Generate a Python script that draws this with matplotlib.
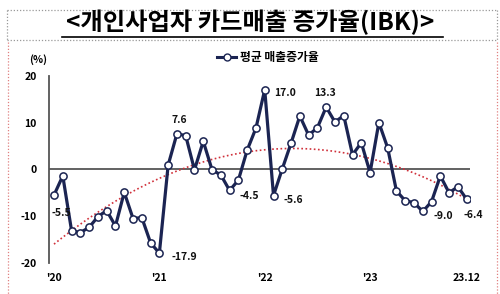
import matplotlib
matplotlib.use("Agg")
import matplotlib.pyplot as plt
from matplotlib.lines import Line2D
import numpy as np

plt.rcParams['font.family'] = ['Noto Sans CJK KR', 'DejaVu Sans']

title = "<개인사업자 카드매출 증가율(IBK)>"
series_name = "평균 매출증가율"
values = [-5.5, -1.4, -13.1, -13.5, -12.4, -10.1, -8.8, -12.1, -4.9, -10.5, -10.3, -15.7,
          -17.9, 0.9, 7.6, 7.2, -0.1, 6.0, -0.1, -1.2, -4.5, -2.3, 4.1, 8.8,
          17.0, -5.6, 0.1, 5.6, 11.4, 7.3, 8.9, 13.3, 10.1, 11.5, 3.1, 5.7,
          -0.7, 10.0, 4.6, -4.6, -6.7, -7.1, -9.0, -6.9, -1.4, -5.0, -3.7, -6.4]
tick_pos = [0, 12, 24, 36, 47]
tick_labels = ["'20", "'21", "'22", "'23", "23.12"]
yticks = [-20, -10, 0, 10, 20]
annot_idx = [0, 12, 14, 20, 24, 25, 31, 42, 47]

W, H = 500, 294
fig = plt.figure(figsize=(W / 100, H / 100), dpi=100)

def fx(px):
    return px / W

def fy(py):
    return 1 - py / H

ax = fig.add_axes([fx(49), fy(263), fx(470) - fx(49), fy(75.7) - fy(263)])
x = np.arange(len(values))
vals = np.array(values)

navy = '#1b2452'
# trend line (2nd order polynomial, like Excel)
coef = np.polyfit(x, vals, 2)
ax.plot(x, np.polyval(coef, x), color='#d0303a', linestyle=(0, (1, 1.5)), lw=1.2, zorder=2)

ax.axhline(0, color='#555555', lw=1.3, zorder=1)
ax.plot(x, vals, color=navy, lw=2.3, marker='o', markersize=5.2,
        markerfacecolor='white', markeredgecolor=navy, markeredgewidth=1.1, zorder=3,
        label=series_name)

ax.set_xlim(-0.57, 47.38)
ax.set_ylim(-20, 20)
for s in ['top', 'right', 'bottom']:
    ax.spines[s].set_visible(False)
ax.spines['left'].set_color('#555555')
ax.spines['left'].set_linewidth(1.3)
ax.set_yticks(yticks)
ax.set_yticklabels([str(v) for v in yticks], fontsize=7.5, fontweight='bold')
ax.tick_params(axis='y', length=0, pad=9)
ax.set_xticks(tick_pos)
ax.set_xticklabels(tick_labels, fontsize=7.5, fontweight='bold')
ax.tick_params(axis='x', length=0, pad=7)

# annotations
offsets = {0: (-2, -13, 'left'), 12: (9, -3, 'left'), 14: (-4, 10, 'left'),
           20: (7, -4, 'left'), 24: (7, -2, 'left'), 25: (7, -3, 'left'),
           31: (-9, 10, 'left'), 42: (8, -3, 'left'), 47: (-2, -11, 'left')}
for i in annot_idx:
    dx, dy, ha = offsets[i]
    ax.annotate(f"{values[i]:.1f}", (x[i], vals[i]), xytext=(dx, dy), textcoords='offset points',
                fontsize=7.5, fontweight='bold', ha=ha, va='center', color='#111111', zorder=4)

leg = fig.legend(handles=[Line2D([0], [0], color=navy, lw=2.2, marker='o', markersize=5,
                                 markerfacecolor='white', markeredgecolor=navy)],
                 labels=[series_name], loc='center', bbox_to_anchor=(fx(268), fy(58)),
                 frameon=False, prop={'size': 8.5, 'weight': 'bold'}, handlelength=1.6,
                 handletextpad=0.3)

fig.text(fx(38), fy(60), "(%)", fontsize=7.5, fontweight='bold', ha='center', va='center')

# title
fig.text(fx(250), fy(22), title, fontsize=17.5, fontweight='bold', ha='center', va='center')
fig.add_artist(Line2D([fx(62), fx(443)], [fy(36.5), fy(36.5)], color='black', lw=1.2))

# borders
grey = '#999999'
pink = '#e08080'
ds = (0, (1, 1.5))
fig.add_artist(Line2D([fx(7), fx(497)], [fy(10), fy(10)], color=grey, lw=0.9, linestyle=ds))
fig.add_artist(Line2D([fx(7), fx(497)], [fy(40), fy(40)], color=grey, lw=0.9, linestyle=ds))
fig.add_artist(Line2D([fx(7), fx(7)], [fy(10), fy(40)], color=grey, lw=0.9, linestyle=ds))
fig.add_artist(Line2D([fx(497), fx(497)], [fy(10), fy(40)], color=grey, lw=0.9, linestyle=ds))
fig.add_artist(Line2D([fx(8), fx(8)], [fy(42), fy(294)], color=pink, lw=0.9, linestyle=ds))
fig.add_artist(Line2D([fx(497), fx(497)], [fy(42), fy(294)], color=pink, lw=0.9, linestyle=ds))

fig.savefig("out.png", dpi=100)
